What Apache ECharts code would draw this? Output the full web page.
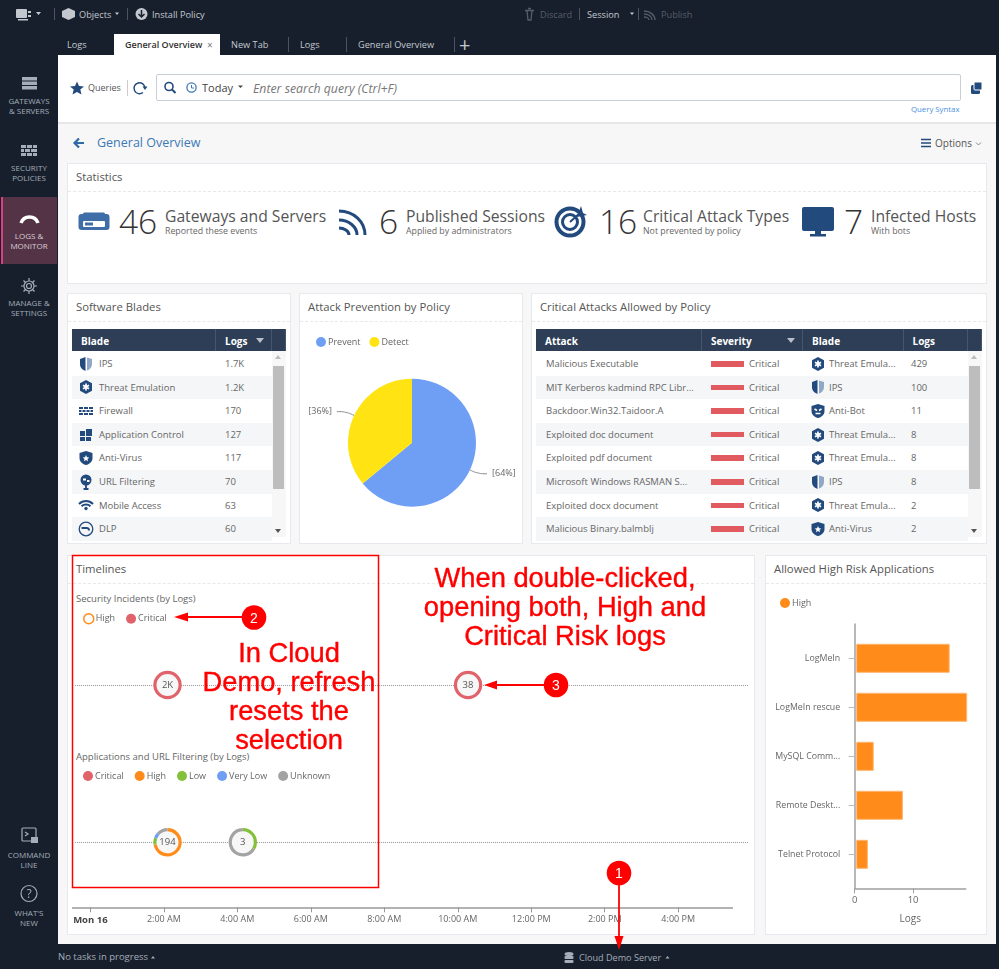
<!DOCTYPE html>
<html lang="en">
<head>
<meta charset="utf-8">
<title>General Overview</title>
<script src="https://cdn.jsdelivr.net/npm/echarts@6.0.0/dist/echarts.min.js"></script>
<style>
    html, body { margin: 0; padding: 0; }
    body { width: 999px; height: 969px; overflow: hidden; position: relative; background: #171f2c; font-family: "Open Sans", sans-serif; color: #555; }
    .a { position: absolute; white-space: nowrap; line-height: 1; }
    .box { position: absolute; background: #fff; border: 1px solid #e6e9ee; box-sizing: border-box; }
    .title { position: absolute; left: 8px; top: 6px; font-size: 11.3px; color: #555; line-height: 14px; white-space: nowrap; }
    .rule { position: absolute; left: 0; right: 0; top: 27px; border-top: 1px dashed #e8e8e8; }
    .top { color: #c3c8cf; font-size: 9.2px; }
    .off { color: #565e6a; font-size: 9.2px; }
    .side { color: #a4adb9; font-size: 8px; text-align: center; width: 58px; left: 0; line-height: 10px; white-space: pre; }
    .sep { position: absolute; width: 1px; background: #4a5362; }
    .big { font-size: 33.5px; font-weight: 300; color: #333; }
    .head { font-size: 15.7px; color: #555; }
    .sub { font-size: 8.8px; color: #666; }
    .th { position: absolute; background: #2d3e56; color: #fff; font-size: 10px; font-weight: 700; height: 22px; line-height: 24px; box-sizing: border-box; padding-left: 9px; border-right: 1px solid #46566c; }
    .tr { position: absolute; height: 23.6px; font-size: 9.5px; line-height: 24.6px; color: #666; white-space: nowrap; }
    .chart { position: absolute; }
    .red { position: absolute; color: #f00; font-family: "Liberation Sans", sans-serif; font-size: 27.3px; line-height: 29px; text-align: center; white-space: pre; -webkit-text-stroke: 0.4px #f00; }
    .sec { position: absolute; font-size: 9.5px; color: #666; white-space: nowrap; line-height: 12px; }
    svg { position: absolute; left: 0; top: 0; pointer-events: none; }
</style>
</head>
<body>

<svg width="0" height="0">
    <defs>
        <symbol id="shield" viewBox="0 0 16 16"><path d="M7.5 1 L2 3 V8 C2 12 5 14 7.5 15 Z" fill="#234a7d"/><path d="M9 1.5 L14 3 V8 C14 11.5 11 14 9 14.5 Z" fill="#8fa8c8"/></symbol>
        <symbol id="hex" viewBox="0 0 16 16"><path d="M8 1 L14 4.3 V11.7 L8 15 L2 11.7 V4.3 Z" fill="#234a7d"/><path d="M8 4.5 V11.5 M5 6.2 L11 9.8 M11 6.2 L5 9.8" stroke="#fff" stroke-width="1.7"/></symbol>
        <symbol id="wall" viewBox="0 0 16 16"><path d="M1 4h4v2H1zM6 4h4v2H6zM11 4h4v2h-4zM1 7h2.500v2H1zM4.500 7h3v2h-3zM8.500 7h3v2h-3zM12.500 7h2.500v2h-2.500zM1 10h4v2H1zM6 10h4v2H6zM11 10h4v2h-4z" fill="#234a7d"/></symbol>
        <symbol id="apps" viewBox="0 0 16 16"><path d="M2 4h5v5H2zM8 2h6v7H8zM2 10h5v4H2zM8 10h5v4H8z" fill="#234a7d"/></symbol>
        <symbol id="virus" viewBox="0 0 16 16"><path d="M8 1 L14.500 3 V8 C14.500 12 11 14.500 8 15 C5 14.500 1.500 12 1.500 8 V3 Z" fill="#234a7d"/><path d="M8 5 L9 7.300 L11.300 7.500 L9.500 9 L10 11.300 L8 10 L6 11.300 L6.500 9 L4.700 7.500 L7 7.300 Z" fill="#fff"/></symbol>
        <symbol id="url" viewBox="0 0 16 16"><circle cx="8" cy="6" r="5.500" fill="#234a7d"/><path d="M5 4.500h3v2H5zM9 6h2.500v2H9z" fill="#fff"/><path d="M8 11 V15 M5.500 15 H10.500" stroke="#234a7d" stroke-width="1.800" fill="none"/></symbol>
        <symbol id="wifi" viewBox="0 0 16 16"><path d="M1 7 C5 3 11 3 15 7 M3.500 9.300 C6 7 10 7 12.500 9.300" stroke="#234a7d" stroke-width="2" fill="none"/><circle cx="8" cy="11.500" r="1.700" fill="#234a7d"/></symbol>
        <symbol id="dlp" viewBox="0 0 16 16"><circle cx="8" cy="8" r="6.800" stroke="#234a7d" stroke-width="1.300" fill="none"/><path d="M3.500 6h5c2.500 0 3.500 1.500 3.500 3.500h-2c0-1-.5-1.500-1.500-1.500H3.500z" fill="#234a7d"/></symbol>
        <symbol id="bot" viewBox="0 0 16 16"><path d="M8 1 L14.500 3 V8 C14.500 12 11 14.500 8 15 C5 14.500 1.500 12 1.500 8 V3 Z" fill="#234a7d"/><path d="M4.500 6 L7 7.500 M11.500 6 L9 7.500 M5.500 10.500 H10.500" stroke="#fff" stroke-width="1.500"/></symbol>
    </defs>
</svg>

<!-- page background -->
<div class="a" style="left:58px;top:55px;width:938px;height:889px;background:#f7f7f7"></div>
<div class="a" style="left:58px;top:55px;width:938px;height:67px;background:#fff;border-bottom:2px solid #e6e6e6"></div>

<!-- top bar -->
<div class="a top" style="left:79px;top:10px">Objects</div>
<div class="a top" style="left:152px;top:10px">Install Policy</div>
<div class="a off" style="left:540px;top:10px">Discard</div>
<div class="a top" style="left:587px;top:10px">Session</div>
<div class="a off" style="left:661px;top:10px">Publish</div>
<div class="sep" style="left:54px;top:8px;height:12px"></div>
<div class="sep" style="left:127px;top:8px;height:12px"></div>
<div class="sep" style="left:579px;top:8px;height:12px"></div>
<div class="sep" style="left:638px;top:8px;height:12px"></div>

<!-- tabs -->
<div class="a" style="left:114px;top:34px;width:106px;height:21px;background:#fff"></div>
<div class="a top" style="left:67px;top:40px">Logs</div>
<div class="a" style="left:125px;top:40px;font-size:9px;color:#333;font-weight:600">General Overview</div>
<div class="a" style="left:207px;top:40px;font-size:10px;color:#777">×</div>
<div class="a top" style="left:231px;top:40px">New Tab</div>
<div class="sep" style="left:288px;top:37px;height:15px"></div>
<div class="a top" style="left:300px;top:40px">Logs</div>
<div class="sep" style="left:346px;top:37px;height:15px"></div>
<div class="a top" style="left:358px;top:40px">General Overview</div>
<div class="sep" style="left:454px;top:37px;height:15px"></div>
<div class="a" style="left:459px;top:35px;font-size:20px;color:#c3c8cf">+</div>

<!-- side menu -->
<div class="a" style="left:1px;top:197px;width:56px;height:67px;background:#553346;border-left:2px solid #d8407f;box-sizing:border-box"></div>
<div class="a side" style="top:96px">GATEWAYS
&amp; SERVERS</div>
<div class="a side" style="top:163px">SECURITY
POLICIES</div>
<div class="a side" style="top:231px;color:#d6d0d6">LOGS &amp;
MONITOR</div>
<div class="a side" style="top:298px">MANAGE &amp;
SETTINGS</div>
<div class="a side" style="top:850px">COMMAND
LINE</div>
<div class="a side" style="top:908px">WHAT'S
NEW</div>

<!-- search row -->
<div class="a" style="left:88px;top:83px;font-size:9px;color:#555">Queries</div>
<div class="a" style="left:127px;top:80px;width:1px;height:16px;background:#ccc"></div>
<div class="a" style="left:156px;top:74px;width:805px;height:27px;box-sizing:border-box;border:1.500px solid #c8cfd9;border-radius:2px;background:#fff"></div>
<div class="a" style="left:202px;top:82px;font-size:11px;color:#444">Today</div>
<div class="a" style="left:253px;top:83px;font-size:12.300px;font-style:italic;color:#777">Enter search query (Ctrl+F)</div>
<div class="a" style="left:911px;top:106px;font-size:7.800px;color:#4a90e2">Query Syntax</div>

<!-- breadcrumb row -->
<div class="a" style="left:97px;top:137px;font-size:12.500px;color:#3d79b6">General Overview</div>
<div class="a" style="left:935px;top:138px;font-size:10px;color:#555">Options</div>

<!-- Statistics -->
<div class="box" style="left:67px;top:163px;width:920px;height:121px">
    <div class="title">Statistics</div>
    <div class="rule"></div>
</div>
<div class="a big" style="left:119px;top:205px">46</div>
<div class="a head" style="left:165px;top:209px">Gateways and Servers</div>
<div class="a sub" style="left:165px;top:227px">Reported these events</div>
<div class="a big" style="left:379px;top:205px">6</div>
<div class="a head" style="left:406px;top:209px">Published Sessions</div>
<div class="a sub" style="left:406px;top:227px">Applied by administrators</div>
<div class="a big" style="left:599px;top:205px">16</div>
<div class="a head" style="left:643px;top:209px">Critical Attack Types</div>
<div class="a sub" style="left:643px;top:227px">Not prevented by policy</div>
<div class="a big" style="left:844px;top:205px">7</div>
<div class="a head" style="left:871px;top:209px">Infected Hosts</div>
<div class="a sub" style="left:871px;top:227px">With bots</div>

<!-- middle row -->
<div class="box" style="left:67px;top:293px;width:224px;height:251px">
    <div class="title">Software Blades</div>
    <div class="rule"></div>
</div>
<div class="box" style="left:299px;top:293px;width:224px;height:251px">
    <div class="title">Attack Prevention by Policy</div>
    <div class="rule"></div>
</div>
<div class="box" style="left:531px;top:293px;width:456px;height:251px">
    <div class="title">Critical Attacks Allowed by Policy</div>
    <div class="rule"></div>
</div>
<div id="bladeTable"></div>
<div id="attackTable"></div>
<div id="pie" class="chart" style="left:299px;top:293px;width:224px;height:251px"></div>

<!-- bottom row -->
<div class="box" style="left:67px;top:555px;width:688px;height:380px">
    <div class="title">Timelines</div>
    <div class="rule"></div>
</div>
<div class="box" style="left:765px;top:555px;width:222px;height:380px">
    <div class="title">Allowed High Risk Applications</div>
    <div class="rule"></div>
</div>
<div class="sec" style="left:76px;top:593px">Security Incidents (by Logs)</div>
<div class="sec" style="left:76px;top:751px">Applications and URL Filtering (by Logs)</div>
<div id="timeline" class="chart" style="left:67px;top:555px;width:688px;height:380px"></div>
<div id="bars" class="chart" style="left:765px;top:555px;width:222px;height:380px"></div>

<!-- status bar -->
<div class="a" style="left:58px;top:952px;font-size:9.500px;color:#a4adb9">No tasks in progress</div>
<div class="a" style="left:579px;top:953px;font-size:9.100px;color:#a4adb9">Cloud Demo Server</div>

<!-- icons and callouts -->
<svg width="999" height="969" style="z-index:5">
    <!-- top bar icons -->
    <g fill="#c3c8cf">
        <rect x="16" y="9" width="11" height="9" rx="1"/><rect x="28" y="11" width="3" height="2"/><rect x="28" y="15" width="3" height="2"/><rect x="18" y="19" width="10" height="1.500"/>
        <path d="M36 12h5l-2.500 3zM115 12.500h4l-2 2.500z"/>
        <path d="M62 11 L68.500 8 L75 11 V17 L68.500 20 L62 17 Z"/>
        <circle cx="141.500" cy="14" r="6"/>
        <path d="M630 12.500h4l-2 2.500z"/>
    </g>
    <path d="M141.500 10 V16 M138.500 14 L141.500 17 L144.500 14" stroke="#171f2c" stroke-width="1.500" fill="none"/>
    <g stroke="#565e6a" fill="none" stroke-width="1.300">
        <path d="M525 10.500h9M527 10.500 L528 20h3 L532 10.500M528 8.500h3"/>
        <path d="M644 11 C650 11 655 15 655 20 M644 14 C648 14 652 16 652 20 M644 17 C646 17 649 18 649 20"/>
    </g>
    <!-- side menu icons -->
    <g fill="#a4adb9">
        <rect x="22" y="77" width="15" height="3.500"/><rect x="22" y="81.500" width="15" height="3.500"/><rect x="22" y="86" width="15" height="3.500"/>
        <path d="M21 145h5v3h-5zM27 145h5v3h-5zM33 145h4v3h-4zM21 149h3v3h-3zM25 149h5v3h-5zM31 149h6v3H31zM21 153h5v3h-5zM27 153h5v3h-5zM33 153h4v3h-4z"/>
    </g>
    <path d="M21 223 A 9 9 0 0 1 38 223" stroke="#fff" stroke-width="3.500" fill="none"/>
    <g fill="none" stroke="#a4adb9" stroke-width="1.200">
        <circle cx="29" cy="286" r="5"/><circle cx="29" cy="286" r="2.500"/><path d="M29 278v3M29 291v3M21 286h3M34 286h3M23.500 280.500l2 2M32.500 289.500l2 2M23.500 291.500l2-2M32.500 282.500l2-2"/>
        <rect x="22" y="828" width="14" height="13" rx="1"/><path d="M25 832l3 2-3 2"/>
        <circle cx="29" cy="893.500" r="8"/>
    </g>
    <rect x="31" y="837" width="7" height="6" fill="#a4adb9"/>
    <text x="29" y="898" text-anchor="middle" font-size="12" font-family="Open Sans" fill="#a4adb9">?</text>
    <!-- search row icons -->
    <path d="M77 81.500 L79 86 L84 86.500 L80.300 89.600 L81.500 94.500 L77 92 L72.500 94.500 L73.700 89.600 L70 86.500 L75 86 Z" fill="#234a7d"/>
    <path d="M145 88 A 5.500 5.500 0 1 0 143 92.500" stroke="#234a7d" stroke-width="1.500" fill="none"/>
    <path d="M142.500 86.500 L147.500 86.500 L145 90 Z" fill="#234a7d"/>
    <circle cx="169" cy="86.500" r="4" stroke="#234a7d" stroke-width="1.600" fill="none"/>
    <path d="M172 89.500 L175.500 93" stroke="#234a7d" stroke-width="2"/>
    <circle cx="191.500" cy="87.500" r="4.600" stroke="#3d79b6" stroke-width="1.300" fill="none"/>
    <path d="M191.500 85 V88 H194" stroke="#3d79b6" fill="none"/>
    <path d="M238 85.500h5l-2.500 2.500z" fill="#444"/>
    <rect x="971" y="85" width="9" height="9" rx="1.500" fill="#234a7d"/><rect x="974" y="82" width="8" height="8" rx="1" fill="#234a7d" stroke="#fff"/>
    <!-- breadcrumb icons -->
    <path d="M84 143 H75 M79 138.500 L74.500 143 L79 147.500" stroke="#2e6aa8" stroke-width="2.200" fill="none"/>
    <path d="M921 139.500h10M921 143h10M921 146.500h10" stroke="#234a7d" stroke-width="1.500"/>
    <path d="M976 142.500 L978.500 145 L981 142.500" stroke="#888" fill="none"/>
    <!-- statistics icons -->
    <rect x="78.500" y="214" width="31" height="16" rx="3" fill="#3e6da8"/>
    <path d="M81 216 L84 212.500 H104 L107 216 Z" fill="#3e6da8"/>
    <rect x="83" y="221" width="22" height="6" rx="1" fill="#fff"/><rect x="85" y="222.500" width="8" height="3" fill="#3e6da8"/>
    <g fill="none" stroke="#234a7d" stroke-width="3">
        <path d="M339 211 C354 211 365 222 365 235"/><path d="M339 220 C349 220 357 227 357 235"/><path d="M339 228 C344 228 349 231 349 235"/>
    </g>
    <g fill="none" stroke="#234a7d">
        <circle cx="570" cy="222" r="13.500" stroke-width="4"/><circle cx="570" cy="222" r="7.500" stroke-width="3"/>
    </g>
    <path d="M570 222 L580 213" stroke="#234a7d" stroke-width="2"/><path d="M577 217 L581 206 L583 213 L587 215 Z" fill="#234a7d"/>
    <rect x="802" y="207" width="32" height="24" rx="2" fill="#234a7d"/><rect x="815" y="231" width="6" height="3" fill="#234a7d"/><rect x="810" y="234" width="16" height="2.500" fill="#234a7d"/>
    <!-- status bar icons -->
    <g fill="#a4adb9"><ellipse cx="569" cy="954" rx="4.500" ry="2"/><rect x="564.500" y="956" width="9" height="3" rx="1"/><rect x="564.500" y="960" width="9" height="3" rx="1"/></g>
    <path d="M151 958.500h4l-2-2.500zM665.500 958.500h4l-2-2.500z" fill="#a4adb9"/>

    <!-- red callouts -->
    <rect x="72.500" y="555.500" width="306" height="332" fill="none" stroke="#f00" stroke-width="1.500"/>
    <g stroke="#f00" stroke-width="1.800" fill="#f00">
        <path d="M242 617 H182" fill="none"/><path d="M174 617 L188 612.500 V621.500 Z" stroke="none"/>
        <path d="M544 685 H492" fill="none"/><path d="M484 685 L497 680.500 V689.500 Z" stroke="none"/>
        <path d="M619 885 V940" fill="none"/><path d="M619 950 L614.500 936 H623.500 Z" stroke="none"/>
    </g>
    <g fill="#f00"><circle cx="254" cy="617.500" r="12.300"/><circle cx="556" cy="685" r="12.300"/><circle cx="619" cy="873" r="12.300"/></g>
    <g fill="#fff" font-family="Liberation Sans" font-size="14" text-anchor="middle">
        <text x="254" y="622.500">2</text><text x="556" y="690">3</text><text x="619" y="878">1</text>
    </g>
</svg>
<div class="red" style="left:179px;top:638px;width:220px;z-index:6">In Cloud
Demo, refresh
resets the
selection</div>
<div class="red" style="left:405px;top:563px;width:320px;z-index:6">When double-clicked,
opening both, High and
Critical Risk logs</div>

<script>
// Software Blades table
var bladeNames = ['IPS', 'Threat Emulation', 'Firewall', 'Application Control', 'Anti-Virus', 'URL Filtering', 'Mobile Access', 'DLP'];
var bladeLogs = ['1.7K', '1.2K', '170', '127', '117', '70', '63', '60'];
var bladeIcons = ['shield', 'hex', 'wall', 'apps', 'virus', 'url', 'wifi', 'dlp'];

// Critical Attacks table
var attackNames = ['Malicious Executable', 'MIT Kerberos kadmind RPC Libr...', 'Backdoor.Win32.Taidoor.A', 'Exploited doc document', 'Exploited pdf document', 'Microsoft Windows RASMAN S...', 'Exploited docx document', 'Malicious Binary.balmblj'];
var attackBlades = ['Threat Emula...', 'IPS', 'Anti-Bot', 'Threat Emula...', 'Threat Emula...', 'IPS', 'Threat Emula...', 'Anti-Virus'];
var attackIcons = ['hex', 'shield', 'bot', 'hex', 'hex', 'shield', 'hex', 'virus'];
var attackLogs = ['429', '100', '11', '8', '8', '8', '2', '2'];

// Attack Prevention pie
var policyNames = ['Prevent', 'Detect'];
var policyShares = [64, 36];

// Allowed High Risk Applications bars
var appNames = ['LogMeIn', 'LogMeIn rescue', 'MySQL Comm...', 'Remote Deskt...', 'Telnet Protocol'];
var appLogs = [16, 19, 3, 8, 2];
var appTicks = [0, 10];

// Timelines: hours since midnight on Mon 16
var timeTicks = [0, 2, 4, 6, 8, 10, 12, 14, 16];
var timeLabels = ['Mon 16', '2:00 AM', '4:00 AM', '6:00 AM', '8:00 AM', '10:00 AM', '12:00 PM', '2:00 PM', '4:00 PM'];
var severities = ['Critical', 'High', 'Low', 'Very Low', 'Unknown'];
var severityColors = ['#e0636b', '#ff8c1a', '#84c13a', '#6f9ff5', '#a3a3a3'];

// one row of the timeline per array group, row 1 is the upper one
var incidentHours = [2.1, 10.28];
var incidentLabels = ['2K', '38'];
var incidentCritical = [2000, 38];

var appEventHours = [2.1, 4.15];
var appEventLabels = ['194', '3'];
var appEventCritical = [0, 0];
var appEventHigh = [140, 0];
var appEventLow = [16, 1];
var appEventVeryLow = [12, 0];
var appEventUnknown = [26, 2];

function icon(id, size) {
    return '<svg width="' + size + '" height="' + size + '" style="position:absolute;left:6px;top:' + ((23.6 - size) / 2) + 'px"><use href="#' + id + '"/></svg>';
}

function headerCell(text, left, width, sorted) {
    var arrow = sorted ? '<span style="position:absolute;right:7px;top:9px;border:4.500px solid transparent;border-top:5px solid #b8c0cb;border-bottom:0"></span>' : '';
    return '<div class="th" style="left:' + left + 'px;top:329px;width:' + width + 'px">' + text + arrow + '</div>';
}

function scrollBar(left) {
    var h = '<div class="a" style="left:' + left + 'px;top:351px;width:14px;height:186px;background:#f7f7f7"></div>';
    h += '<div class="a" style="left:' + (left + 0.5) + 'px;top:366px;width:11px;height:123px;background:#bdbdbd"></div>';
    h += '<div class="a" style="left:' + (left + 3) + 'px;top:355px;border:3px solid transparent;border-bottom:4px solid #bbb;border-top:0"></div>';
    h += '<div class="a" style="left:' + (left + 3) + 'px;top:529px;border:3px solid transparent;border-top:4px solid #555;border-bottom:0"></div>';
    return h;
}

function rowBack(i, left, width) {
    var bg = i % 2 ? '#f5f6f8' : '#fff';
    return '<div class="a" style="left:' + left + 'px;top:' + (352 + i * 23.6) + 'px;width:' + width + 'px;height:23.6px;background:' + bg + '"></div>';
}

function cell(text, left, i, extra) {
    return '<div class="tr" style="left:' + left + 'px;top:' + (352 + i * 23.6) + 'px">' + (extra || '') + text + '</div>';
}

var html = headerCell('Blade', 72, 144) + headerCell('Logs', 216, 56, true) + headerCell('', 272, 14);
bladeNames.forEach(function (name, i) {
    html += rowBack(i, 72, 200);
    html += '<div class="tr" style="left:72px;top:' + (352 + i * 23.6) + 'px;width:20px">' + icon(bladeIcons[i], 16) + '</div>';
    html += cell(name, 99, i) + cell(bladeLogs[i], 225, i);
});
html += scrollBar(272);
document.getElementById('bladeTable').innerHTML = html;

html = headerCell('Attack', 536, 166) + headerCell('Severity', 702, 101, true) + headerCell('Blade', 803, 100.5) + headerCell('Logs', 903.5, 64.5) + headerCell('', 968, 14);
attackNames.forEach(function (name, i) {
    html += rowBack(i, 536, 432);
    html += cell(name, 546, i);
    html += '<div class="a" style="left:711px;top:' + (352 + i * 23.6 + 9) + 'px;width:33px;height:5.500px;background:#e05a60"></div>';
    html += cell('Critical', 749, i);
    html += '<div class="tr" style="left:804px;top:' + (352 + i * 23.6) + 'px;width:20px">' + icon(attackIcons[i], 16) + '</div>';
    html += cell(attackBlades[i], 829, i) + cell(attackLogs[i], 911, i);
});
html += scrollBar(968);
document.getElementById('attackTable').innerHTML = html;

var uiFont = '"Open Sans", sans-serif';
var legendText = { fontSize: 9, color: '#666', fontFamily: uiFont, padding: [0, 0, 0, -3] };

// pie
var pieChart = echarts.init(document.getElementById('pie'));
pieChart.setOption({
    animation: false,
    color: ['#6f9ff5', '#ffe312'],
    legend: {
        left: 12, top: 39, icon: 'circle', itemWidth: 10, itemHeight: 10, itemGap: 9,
        data: policyNames,
        textStyle: legendText
    },
    series: [{
        type: 'pie',
        center: [113, 149.7],
        radius: 64,
        startAngle: 90,
        data: policyNames.map(function (n, i) { return { name: n, value: policyShares[i] }; }),
        label: { formatter: '[{c}%]', fontSize: 9, color: '#666', fontFamily: uiFont, overflow: 'none' },
        labelLine: { length: 9, length2: 9, smooth: 0.4, lineStyle: { color: '#888', width: 1 } }
    }]
});

// bars: one grid carries the bars, the taller one carries the axis lines
var barChart = echarts.init(document.getElementById('bars'));
barChart.setOption({
    animation: false,
    legend: {
        left: 10, top: 38, icon: 'circle', itemWidth: 10, itemHeight: 10,
        data: [{ name: 'High', itemStyle: { borderWidth: 0 } }],
        textStyle: legendText
    },
    grid: [
        { left: 91.2, right: 19.8, top: 78.8, bottom: 56.2 },
        { left: 89.7, right: 21.3, top: 69, bottom: 46.7 }
    ],
    xAxis: [
        { gridIndex: 0, type: 'value', min: 0, max: 19, show: false },
        {
            gridIndex: 1, type: 'value', min: 0, max: 19,
            name: 'Logs', nameLocation: 'middle', nameGap: 26,
            nameTextStyle: { fontSize: 10, color: '#666', fontFamily: uiFont },
            axisLine: { show: true, lineStyle: { color: '#a0a0a0', width: 1.5 } },
            axisTick: { show: true, length: 5, customValues: appTicks, lineStyle: { color: '#a0a0a0' } },
            axisLabel: { customValues: appTicks, fontSize: 9.5, color: '#666', fontFamily: uiFont, margin: 7 },
            splitLine: { show: false }
        }
    ],
    yAxis: [
        {
            gridIndex: 0, type: 'category', inverse: true, data: appNames,
            axisLine: { show: false },
            axisTick: { show: true, alignWithLabel: true, length: 7.5, lineStyle: { color: '#bbb' } },
            axisLabel: { fontSize: 8.8, color: '#666', fontFamily: uiFont, margin: 16 }
        },
        {
            gridIndex: 1, type: 'value', min: 0, max: 1,
            axisLine: { show: true, lineStyle: { color: '#a0a0a0', width: 1.5 } },
            axisTick: { show: false }, axisLabel: { show: false }, splitLine: { show: false }
        }
    ],
    series: [{
        name: 'High', type: 'bar', xAxisIndex: 0, yAxisIndex: 0,
        data: appLogs, barWidth: 29,
        itemStyle: { color: '#ff8c1a', borderColor: '#ffb570', borderWidth: 1 }
    }]
});

// timeline rings
var ROW_APPS = 0, ROW_INCIDENTS = 1;

function ringPieces(hours, row, counts, severityIndex) {
    // counts holds one array per severity, pieces run clockwise from 12 o'clock
    var out = [];
    hours.forEach(function (h, i) {
        var total = 0, before = 0;
        counts.forEach(function (c, s) { total += c[i]; if (s < severityIndex) before += c[i]; });
        var own = counts[severityIndex][i];
        if (own > 0) out.push([h, row, before / total, (before + own) / total]);
    });
    return out;
}

function renderPiece(params, api) {
    var p = api.coord([api.value(0), api.value(1)]);
    var a0 = -Math.PI / 2 + api.value(2) * Math.PI * 2;
    var a1 = -Math.PI / 2 + api.value(3) * Math.PI * 2;
    return {
        type: 'sector',
        shape: { cx: p[0], cy: p[1], r: 14.2, r0: 11, startAngle: a0, endAngle: a1, clockwise: true },
        style: { fill: api.visual('color') }
    };
}

function renderCentre(params, api) {
    var p = api.coord([api.value(0), api.value(1)]);
    return {
        type: 'group',
        children: [
            { type: 'circle', shape: { cx: p[0], cy: p[1], r: 11.5 }, style: { fill: '#f7f7f7' } },
            { type: 'text', style: { x: p[0], y: p[1], text: String(timelineLabels[params.dataIndex]), align: 'center', verticalAlign: 'middle', fontSize: 9.5, fill: '#555', fontFamily: uiFont } }
        ]
    };
}

var incidentCounts = [incidentCritical];
var appCounts = [appEventCritical, appEventHigh, appEventLow, appEventVeryLow, appEventUnknown];
var timelineLabels = incidentLabels.concat(appEventLabels);

var ringSeries = severities.map(function (name, s) {
    var pieces = ringPieces(appEventHours, ROW_APPS, appCounts, s);
    if (s === 0) pieces = pieces.concat(ringPieces(incidentHours, ROW_INCIDENTS, incidentCounts, 0));
    return {
        name: name, type: 'custom', renderItem: renderPiece, z: 4,
        itemStyle: { color: severityColors[s] },
        encode: { x: 0, y: 1 }, data: pieces
    };
});

var centreData = incidentHours.map(function (h) { return [h, ROW_INCIDENTS]; })
    .concat(appEventHours.map(function (h) { return [h, ROW_APPS]; }));

var timelineChart = echarts.init(document.getElementById('timeline'));
timelineChart.setOption({
    animation: false,
    legend: [
        {
            left: 11, top: 53, icon: 'circle', itemWidth: 10, itemHeight: 10, itemGap: 11, textStyle: legendText,
            data: [{ name: 'High', itemStyle: { color: '#fff', borderColor: '#ff8c1a', borderWidth: 1.5 } }, 'Critical']
        },
        {
            left: 11, top: 211, icon: 'circle', itemWidth: 10, itemHeight: 10, itemGap: 11, textStyle: legendText,
            data: severities
        }
    ],
    grid: { left: 5, right: 7, top: 51.3, bottom: 27.7 },
    xAxis: {
        type: 'value', min: -0.5, max: 17.9,
        axisLine: { show: false, onZero: false },
        axisTick: { show: true, length: 5, customValues: timeTicks, lineStyle: { color: '#999' } },
        axisLabel: {
            customValues: timeTicks, fontSize: 9, color: '#666', fontFamily: uiFont, margin: 8,
            formatter: function (v) {
                var s = timeLabels[timeTicks.indexOf(v)];
                return v === 0 ? '{day|' + s + '}' : s;
            },
            rich: { day: { fontSize: 9.5, fontWeight: 700, color: '#444', fontFamily: uiFont } }
        },
        splitLine: { show: false }
    },
    yAxis: { type: 'value', min: -0.413, max: 1.5, show: false },
    series: ringSeries.concat([{
        name: 'Events', type: 'custom', renderItem: renderCentre, z: 3,
        encode: { x: 0, y: 1 }, data: centreData, clip: false,
        markLine: {
            silent: true, symbol: 'none', label: { show: false }, z: 1,
            data: [
                [{ coord: [-0.42, ROW_INCIDENTS], lineStyle: { type: 'dotted', color: '#999', width: 1 } }, { coord: [17.9, ROW_INCIDENTS] }],
                [{ coord: [-0.42, ROW_APPS], lineStyle: { type: 'dotted', color: '#999', width: 1 } }, { coord: [17.9, ROW_APPS] }],
                [{ coord: [-0.5, -0.413], lineStyle: { type: 'solid', color: '#999', width: 1.5 } }, { coord: [17.49, -0.413] }]
            ]
        }
    }])
});
</script>
</body>
</html>
